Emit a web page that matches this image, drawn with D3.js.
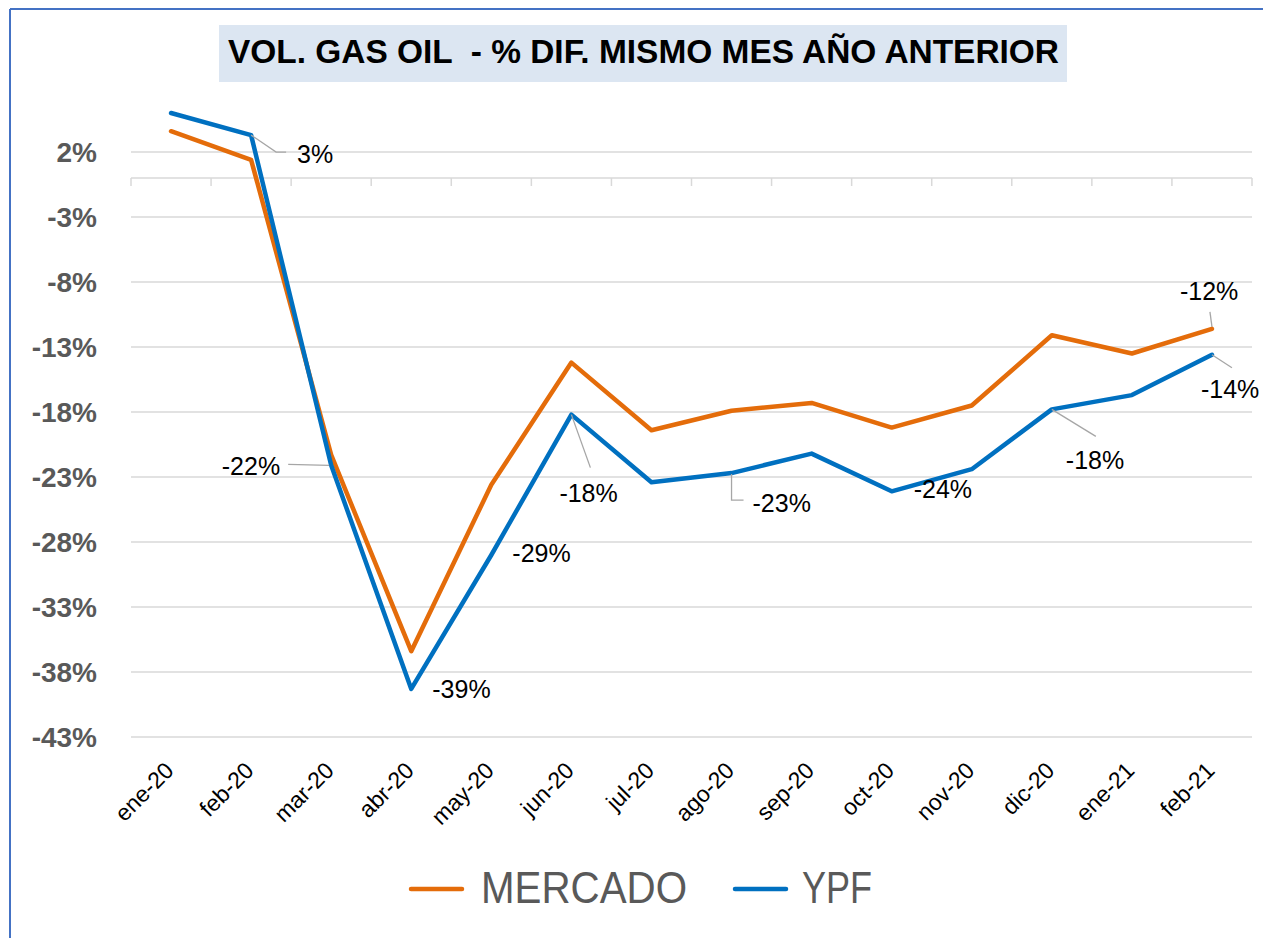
<!DOCTYPE html>
<html>
<head>
<meta charset="utf-8">
<script src="https://cdn.jsdelivr.net/npm/d3@7"></script>
<style>
  body { margin: 0; background: #fff; }
  svg { display: block; font-family: "Liberation Sans", Arial, sans-serif; }
</style>
</head>
<body>
<div id="vis"></div>
<script>
// datos
var months = ["ene-20","feb-20","mar-20","abr-20","may-20","jun-20","jul-20",
              "ago-20","sep-20","oct-20","nov-20","dic-20","ene-21","feb-21"];
var mercado = [3.6, 1.4, -21.3, -36.4, -23.6, -14.2, -19.4, -17.9, -17.3, -19.2, -17.5, -12.1, -13.5, -11.6];
var ypf     = [5.0, 3.3, -22.1, -39.3, -29.0, -18.2, -23.4, -22.7, -21.2, -24.1, -22.4, -17.8, -16.7, -13.6];
var yTicks  = [2, -3, -8, -13, -18, -23, -28, -33, -38, -43];
var seriesNames = ["MERCADO", "YPF"];

// etiquetas de datos (serie, mes) y su ubicacion relativa al punto
var labelLayout = [
  {s: 1, i: 1,  dx: 46,  dy: 19,  anchor: "start", leader: [[0,0],[25,17],[35,17]]},
  {s: 1, i: 2,  dx: -51, dy: 1,   anchor: "end",   leader: [[-43,-1],[-2,0]]},
  {s: 1, i: 3,  dx: 21,  dy: 0,   anchor: "start", leader: null},
  {s: 1, i: 4,  dx: 21,  dy: -2,  anchor: "start", leader: null},
  {s: 1, i: 5,  dx: -12, dy: 78,  anchor: "start", leader: [[0,0],[19,53]]},
  {s: 1, i: 7,  dx: 21,  dy: 30,  anchor: "start", leader: [[0,1],[0,27],[12,27]]},
  {s: 1, i: 9,  dx: 22,  dy: -2,  anchor: "start", leader: null},
  {s: 1, i: 11, dx: 14,  dy: 51,  anchor: "start", leader: [[0,0],[44,27]]},
  {s: 1, i: 13, dx: -11, dy: 34,  anchor: "start", leader: [[0,0],[20,13]]},
  {s: 0, i: 13, dx: -32, dy: -38, anchor: "start", leader: [[0,-2],[-2,-17]]}
];

var colors = ["#E46C0A", "#0070C0"];
var width = 1263, height = 938;

var svg = d3.select("#vis")
  .append("svg")
  .attr("width", width)
  .attr("height", height);

// marco
svg.append("line")
  .attr("x1", 10).attr("x2", 10).attr("y1", 9).attr("y2", height)
  .style("stroke", "#4472C4").style("stroke-width", 2);
svg.append("line")
  .attr("x1", 10).attr("x2", width).attr("y1", 9).attr("y2", 9)
  .style("stroke", "#4472C4").style("stroke-width", 2);

// titulo
svg.append("rect")
  .attr("x", 219).attr("y", 25)
  .attr("width", 848).attr("height", 57)
  .style("fill", "#DCE6F2");
svg.append("text")
  .attr("x", 228).attr("y", 63)
  .attr("textLength", 831)
  .attr("lengthAdjust", "spacingAndGlyphs")
  .style("white-space", "pre")
  .style("font-size", "33px")
  .style("font-weight", "bold")
  .style("fill", "#000")
  .text("VOL. GAS OIL  - % DIF. MISMO MES AÑO ANTERIOR");

var xScale = d3.scaleBand()
  .domain(months)
  .range([131, 1252]);

var yScale = d3.scaleLinear()
  .domain([-43, 2])
  .range([737, 152]);

function cx(i){ return xScale(months[i]) + xScale.bandwidth() / 2; }

// grilla
svg.append("g")
  .selectAll("line")
  .data(yTicks)
  .enter()
  .append("line")
  .attr("x1", 131).attr("x2", 1252)
  .attr("y1", function(d){ return yScale(d); })
  .attr("y2", function(d){ return yScale(d); })
  .style("stroke", "#D9D9D9")
  .style("stroke-width", 1.5);

// eje Y
svg.append("g")
  .selectAll("text")
  .data(yTicks)
  .enter()
  .append("text")
  .attr("x", 97)
  .attr("y", function(d){ return yScale(d); })
  .attr("dy", "0.36em")
  .attr("text-anchor", "end")
  .style("font-size", "28px")
  .style("font-weight", "bold")
  .style("fill", "#595959")
  .text(function(d){ return d + "%"; });

// eje X en 0
var xAxis = svg.append("g")
  .attr("transform", "translate(0," + yScale(0) + ")")
  .call(d3.axisBottom(xScale).tickSize(0).tickFormat(""));
xAxis.select(".domain").remove();
xAxis.append("line")
  .attr("x1", 131).attr("x2", 1252)
  .style("stroke", "#D9D9D9").style("stroke-width", 1.5);
xAxis.selectAll(".bound")
  .data(months.concat(["_end"]))
  .enter()
  .append("line")
  .attr("class", "bound")
  .attr("x1", function(d, i){ return 131 + i * xScale.step(); })
  .attr("x2", function(d, i){ return 131 + i * xScale.step(); })
  .attr("y1", 0).attr("y2", 8)
  .style("stroke", "#D9D9D9").style("stroke-width", 1.5);

// etiquetas de meses
svg.append("g")
  .selectAll("text")
  .data(months)
  .enter()
  .append("text")
  .attr("transform", function(d, i){ return "translate(" + (cx(i) + 4) + ",772) rotate(-45)"; })
  .attr("text-anchor", "end")
  .style("font-size", "23px")
  .style("fill", "#000")
  .text(function(d){ return d; });

// lineas
var line = d3.line()
  .x(function(d, i){ return cx(i); })
  .y(function(d){ return yScale(d); });

[mercado, ypf].forEach(function(values, k){
  svg.append("path")
    .datum(values)
    .attr("d", line)
    .style("fill", "none")
    .style("stroke", colors[k])
    .style("stroke-width", 4.5)
    .style("stroke-linejoin", "round")
    .style("stroke-linecap", "round");
});

// etiquetas de datos
var allSeries = [mercado, ypf];
labelLayout.forEach(function(l){
  var px = cx(l.i), py = yScale(allSeries[l.s][l.i]);
  if(l.leader){
    svg.append("polyline")
      .attr("points", l.leader.map(function(p){ return (px + p[0]) + "," + (py + p[1]); }).join(" "))
      .style("fill", "none")
      .style("stroke", "#A6A6A6")
      .style("stroke-width", 1.3);
  }
  svg.append("text")
    .attr("x", px + l.dx)
    .attr("y", py + l.dy)
    .attr("dy", "0.36em")
    .attr("text-anchor", l.anchor)
    .style("font-size", "25px")
    .style("fill", "#000")
    .text(Math.round(allSeries[l.s][l.i]) + "%");
});

// leyenda
var legendX = [411, 735];
var legendTextX = [481, 802];
var legendLen = [206, 70];
seriesNames.forEach(function(name, k){
  svg.append("line")
    .attr("x1", legendX[k]).attr("x2", legendX[k] + 51)
    .attr("y1", 889).attr("y2", 889)
    .style("stroke", colors[k])
    .style("stroke-width", 4.5)
    .style("stroke-linecap", "round");
  svg.append("text")
    .attr("x", legendTextX[k])
    .attr("y", 903)
    .attr("textLength", legendLen[k])
    .attr("lengthAdjust", "spacingAndGlyphs")
    .style("font-size", "44px")
    .style("fill", "#595959")
    .text(name);
});
</script>
</body>
</html>
